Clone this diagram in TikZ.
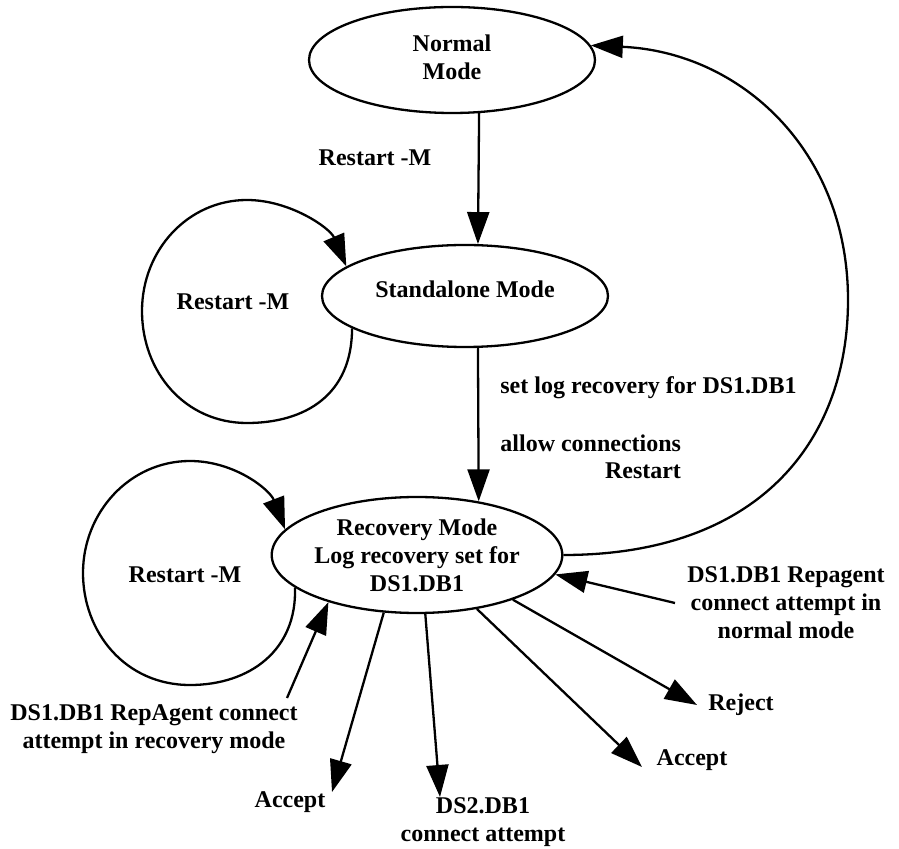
\documentclass[tikz,border=0pt]{standalone}
\usepackage{fontspec}
\setmainfont{Liberation Serif}
\usetikzlibrary{arrows.meta,shapes.geometric}

\tikzset{
  state/.style={ellipse, draw, line width=1.15pt, inner sep=0pt, align=center},
  lbl/.style={inner sep=0pt, align=center},
  edge/.style={line width=1.15pt, -{Triangle[length=16pt,width=11pt]}},
}

\begin{document}
\begin{tikzpicture}[x=0.5pt, y=-0.5pt,
    every node/.append style={font=\fontsize{12}{14}\selectfont\bfseries}]
  \useasboundingbox (0,0) rectangle (899,849);

  % states
  \node[state, minimum width=143pt, minimum height=53pt] (normal) at (452,60)
    {\raisebox{4.5pt}{\begin{tabular}{@{}c@{}}Normal\\Mode\end{tabular}}};
  \node[state, minimum width=143pt, minimum height=51pt] (standalone) at (465,296)
    {\raisebox{7pt}{Standalone Mode}};
  \node[state, minimum width=144pt, minimum height=58pt] (recovery) at (417,555)
    {Recovery Mode\\Log recovery set for\\DS1.DB1};

  % transition labels
  \node[lbl] (lrestartm) at (375,158) {Restart -M};
  \node[lbl] (lloopa) at (233,302) {Restart -M};
  \node[lbl, anchor=west] (lsetlog) at (500,388) {set log recovery for DS1.DB1};
  \node[lbl, anchor=west] (lallow) at (500,443) {allow connections};
  \node[lbl] (lrestart) at (643,471) {Restart};
  \node[lbl] (lloopb) at (185,575) {Restart -M};
  \node[lbl] (lrepnormal) at (786,603) {DS1.DB1 Repagent\\connect attempt in\\normal mode};
  \node[lbl] (lreprec) at (154,729) {DS1.DB1 RepAgent connect\\attempt in recovery mode};
  \node[lbl] (lacceptl) at (290,802) {Accept};
  \node[lbl] (lds2) at (483,822) {DS2.DB1\\connect attempt};
  \node[lbl] (lacceptr) at (692,760) {Accept};
  \node[lbl] (lreject) at (741,705) {Reject};

  % free ends of the outer connectors
  \coordinate (repreccall) at (287,698);
  \coordinate (repnormcall) at (675,603);
  \coordinate (acceptl) at (332,792);
  \coordinate (ds2) at (440,797);
  \coordinate (acceptr) at (642,767);
  \coordinate (reject) at (697,705);

  % main chain
  \draw[edge] (normal.-63) -- (standalone.76);
  \draw[edge] (standalone.-76) -- (recovery.41);

  % self loops
  \draw[edge] (standalone.196) .. controls (352,395) and (305,423) .. (247,423)
    .. controls (185,423) and (142,372) .. (142,311)
    .. controls (142,250) and (188,200) .. (247,200)
    .. controls (290,200) and (330,228) .. (standalone.166);
  \draw[edge] (recovery.195) .. controls (297,650) and (250,685) .. (190,685)
    .. controls (125,685) and (83,632) .. (83,573)
    .. controls (83,512) and (130,461) .. (190,461)
    .. controls (235,461) and (270,490) .. (recovery.169);

  % restart back to normal
  \draw[edge] (recovery.east) .. controls (760,555) and (848,440) .. (848,300)
    .. controls (848,150) and (740,52) .. (normal.6);

  % connection attempts
  \draw[edge] (repreccall) -- (recovery.208);
  \draw[edge] (repnormcall) -- (recovery.352);
  \draw[edge] (recovery.240) -- (acceptl);
  \draw[edge] (recovery.278) -- (ds2);
  \draw[edge] (recovery.318) -- (acceptr);
  \draw[edge] (recovery.335) -- (reject);
\end{tikzpicture}
\end{document}
